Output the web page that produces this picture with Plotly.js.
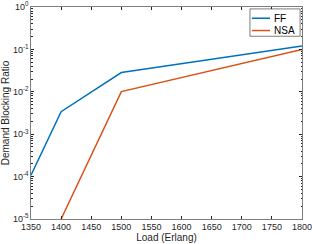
<!DOCTYPE html>
<html><head><meta charset="utf-8">
<script src="https://cdn.plot.ly/plotly-3.0.1.min.js"></script>
<style>html,body{margin:0;padding:0;background:#fff}#c{width:312px;height:244px}</style>
</head><body><div id="c"></div>
<script>
const seriesNames = ['FF', 'NSA'];
const seriesColors = ['#0072BD', '#D95319'];
const loadFF = [1350, 1400, 1500, 1800];
const ratioFF = [1.08e-4, 3.4e-3, 0.0285, 0.12];
const loadNSA = [1400, 1500, 1800];
const ratioNSA = [1.0e-5, 0.0101, 0.10];
const xTicks = [1350,1400,1450,1500,1550,1600,1650,1700,1750,1800];
const yTickVals = [1e-5,1e-4,1e-3,1e-2,1e-1,1];
const yTickText = ['10<sup>-5</sup>','10<sup>-4</sup>','10<sup>-3</sup>','10<sup>-2</sup>','10<sup>-1</sup>','10<sup>0</sup>'];
const axCol = '#262626';
const data = [
  {x: loadFF, y: ratioFF, name: seriesNames[0], mode: 'lines', line: {color: seriesColors[0], width: 1.5}},
  {x: loadNSA, y: ratioNSA, name: seriesNames[1], mode: 'lines', line: {color: seriesColors[1], width: 1.5}}
];
// manual compact legend (MATLAB style)
const legY = [0.947, 0.889];
const shapes = [{type: 'rect', xref: 'paper', yref: 'paper', x0: 0.808, x1: 0.993, y0: 0.862, y1: 0.991,
                 line: {color: axCol, width: 0.6}, fillcolor: '#fff', layer: 'above'}];
const annotations = [];
seriesNames.forEach((n, i) => {
  shapes.push({type: 'line', xref: 'paper', yref: 'paper', x0: 0.815, x1: 0.882, y0: legY[i], y1: legY[i],
               line: {color: seriesColors[i], width: 1.5}, layer: 'above'});
  annotations.push({xref: 'paper', yref: 'paper', x: 0.89, y: legY[i], xanchor: 'left', yanchor: 'middle',
                    text: n, showarrow: false, font: {size: 10, color: '#000'}});
});
const layout = {
  width: 312, height: 244,
  margin: {l: 31, r: 10, t: 7, b: 25},
  paper_bgcolor: '#fff', plot_bgcolor: '#fff',
  font: {family: 'Liberation Sans, Arial, sans-serif', size: 9, color: axCol},
  showlegend: false,
  shapes: shapes, annotations: annotations,
  xaxis: {range: [1350, 1800], tickvals: xTicks, ticks: 'inside', ticklen: 3,
          tickcolor: axCol, linecolor: axCol, linewidth: 0.6, mirror: 'ticks',
          showline: true, showgrid: false, zeroline: false, ticklabeloverflow: 'allow',
          tickfont: {size: 9, color: axCol},
          title: {text: 'Load (Erlang)', font: {size: 10, color: axCol}, standoff: 2}},
  yaxis: {type: 'log', range: [-5, 0], tickvals: yTickVals, ticktext: yTickText,
          ticks: 'inside', ticklen: 3, tickcolor: axCol, linecolor: axCol, linewidth: 0.6,
          mirror: 'ticks', showline: true, showgrid: false, zeroline: false, ticklabeloverflow: 'allow',
          tickfont: {size: 9, color: axCol},
          minor: {ticks: 'inside', ticklen: 1.5, tickcolor: axCol, dtick: 'D1', showgrid: false},
          title: {text: 'Demand Blocking Ratio', font: {size: 10, color: axCol}, standoff: 1}}
};
Plotly.newPlot('c', data, layout, {displayModeBar: false, staticPlot: true});
</script></body></html>
